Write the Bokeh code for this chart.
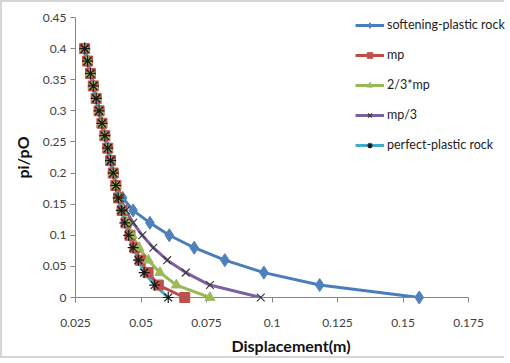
from bokeh.plotting import figure
from bokeh.models import FixedTicker, Legend
from bokeh.embed import file_html
from bokeh.resources import INLINE

# ---- data ----
pi_p0 = [0.40, 0.38, 0.36, 0.34, 0.32, 0.30, 0.28, 0.26, 0.24, 0.22, 0.20,
         0.18, 0.16, 0.14, 0.12, 0.10, 0.08, 0.06, 0.04, 0.02, 0.0]

common_x = [0.0285, 0.0296, 0.0307, 0.0318, 0.0329, 0.0340, 0.0351, 0.0362,
            0.0373, 0.0384, 0.0394, 0.0404]

softening_x = common_x + [0.0430, 0.0470, 0.0534, 0.0608, 0.0703, 0.0820, 0.0969, 0.1182, 0.1562]
mp_x = common_x + [0.0414, 0.0428, 0.0443, 0.0458, 0.0477, 0.0497, 0.0527, 0.0566, 0.0667]
mp23_x = common_x + [0.0416, 0.0431, 0.0448, 0.0466, 0.0492, 0.0528, 0.0572, 0.0635, 0.0763]
mp3_x = common_x + [0.0420, 0.0442, 0.0470, 0.0505, 0.0547, 0.0600, 0.0671, 0.0763, 0.0957]
perfect_x = common_x + [0.0413, 0.0425, 0.0438, 0.0453, 0.0470, 0.0490, 0.0512, 0.0552, 0.0604]

series_names = ["softening-plastic rock", "mp", "2/3*mp", "mp/3", "perfect-plastic rock"]

x_ticks = [0.025, 0.05, 0.075, 0.1, 0.125, 0.15, 0.175]
x_tick_labels = ["0.025", "0.05", "0.075", "0.1", "0.125", "0.15", "0.175"]
y_ticks = [0.0, 0.05, 0.1, 0.15, 0.2, 0.25, 0.3, 0.35, 0.4, 0.45]
y_tick_labels = ["0", "0.05", "0.1", "0.15", "0.2", "0.25", "0.3", "0.35", "0.4", "0.45"]

FONT = "Lato"

# x axis itself only drawn over 0.025..0.175; frame extends right for the legend
p = figure(width=504, height=358, x_range=(0.025, 0.1895), y_range=(0.0, 0.45),
           output_backend="svg", toolbar_location=None,
           min_border_left=73, min_border_right=0, min_border_top=15, min_border_bottom=63)
p.styles = {"border-left": "2px solid #d6d6d6", "border-bottom": "2px solid #d6d6d6",
            "border-top": "2px solid #d6d6d6"}
p.grid.visible = False
p.outline_line_color = None
p.background_fill_color = "white"
p.border_fill_color = "white"

styles = [
    (softening_x, "#4A7EBB", "diamond", 13, "#4F81BD", "#4F81BD"),
    (mp_x, "#BE4B48", "square", 10, "#C0504D", "#C0504D"),
    (mp23_x, "#98B954", "triangle", 10, "#9BBB59", "#9BBB59"),
    (mp3_x, "#7D60A0", "x", 11, None, "#3a3a3a"),
    (perfect_x, "#46AAC5", "asterisk", 11, None, "#1a1a1a"),
]

items = []
for (xs, lc, mk, sz, fc, mc), name in zip(styles, series_names):
    r1 = p.line(xs, pi_p0, line_color=lc, line_width=3)
    r2 = p.scatter(xs, pi_p0, marker=mk, size=sz, fill_color=fc, line_color=mc,
                   line_width=1.2 if mk in ("x", "asterisk") else 1)
    r2.level = "overlay"
    items.append((name, [r1, r2]))

legend = Legend(items=items, location=(280, 145), padding=0, margin=0,
                spacing=15, glyph_width=29, glyph_height=14, label_height=14,
                label_standoff=3, border_line_alpha=0, background_fill_alpha=0,
                label_text_font=FONT, label_text_font_size="12.5px",
                label_text_color="#222222")
p.add_layout(legend, "center")

for ax in (p.xaxis[0], p.yaxis[0]):
    ax.axis_line_color = "#868686"
    ax.major_tick_line_color = "#868686"
    ax.minor_tick_line_color = None
    ax.major_tick_in = 0
    ax.major_tick_out = 5
    ax.major_label_text_font = FONT
    ax.major_label_text_font_size = "12px"
    ax.major_label_text_color = "#404040"
    ax.axis_label_text_font = FONT
    ax.axis_label_text_font_size = "16px"
    ax.axis_label_text_font_style = "bold"
    ax.axis_label_text_color = "#111111"

p.xaxis.bounds = (0.025, 0.175)
p.xaxis.ticker = FixedTicker(ticks=x_ticks)
p.xaxis.major_label_overrides = dict(zip(x_ticks, x_tick_labels))
p.yaxis.ticker = FixedTicker(ticks=y_ticks)
p.yaxis.major_label_overrides = dict(zip(y_ticks, y_tick_labels))
p.xaxis.axis_label = "Displacement(m)"
p.yaxis.axis_label = "pi/pO"
p.xaxis.major_label_standoff = 16
p.xaxis.axis_label_standoff = 6
p.yaxis.major_label_standoff = 4
p.yaxis.axis_label_standoff = 8

open("out.html", "w").write(file_html(p, INLINE))
